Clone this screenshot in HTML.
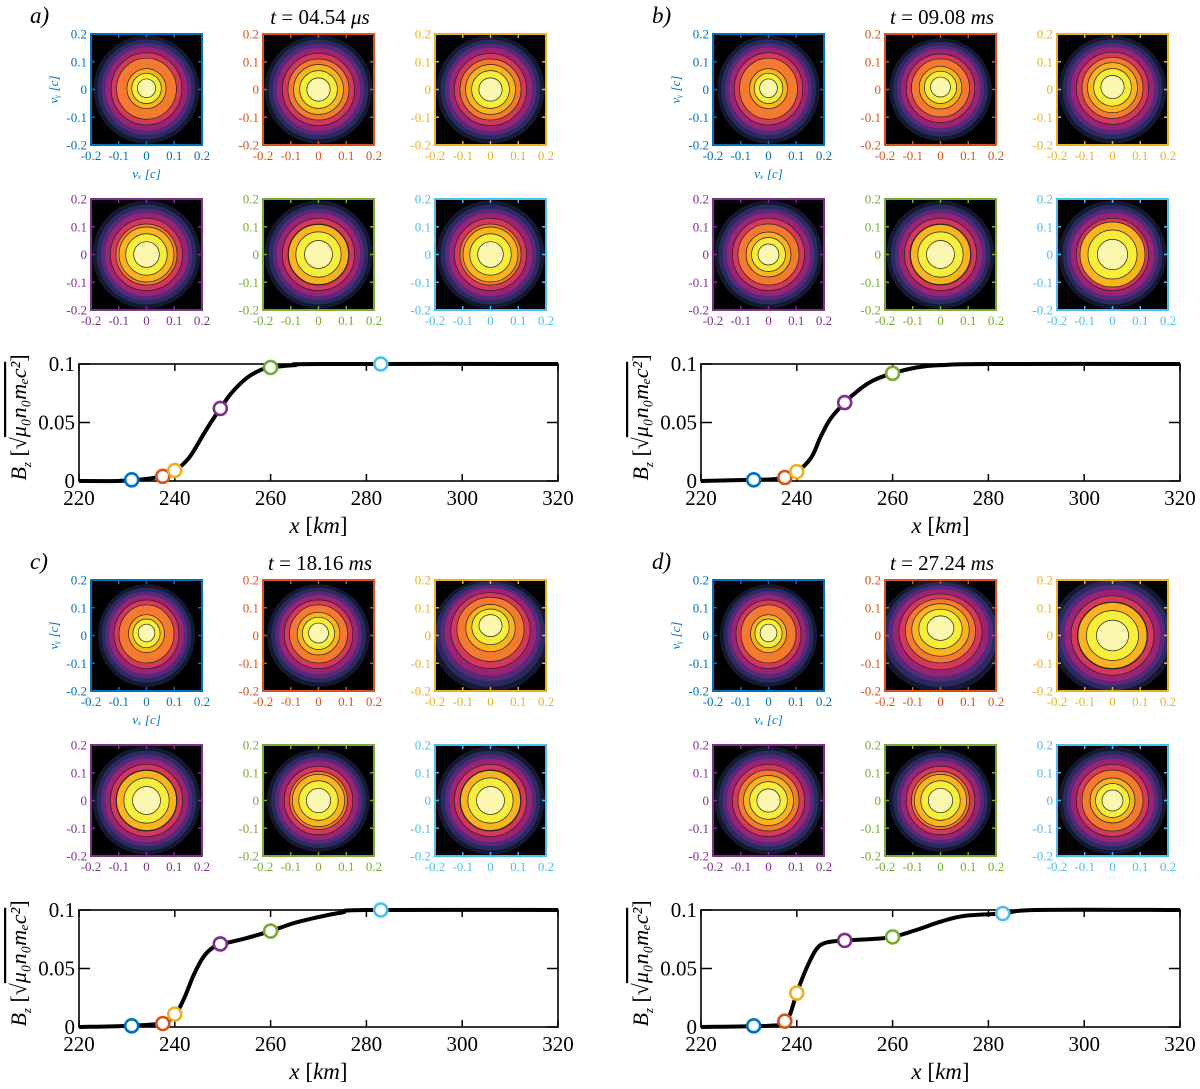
<!DOCTYPE html>
<html><head><meta charset="utf-8">
<style>
html,body{margin:0;padding:0;background:#fff;}
svg{display:block;font-family:"Liberation Serif",serif;}
</style></head>
<body>
<svg id="fig" width="1200" height="1089" viewBox="0 0 1200 1089" xmlns="http://www.w3.org/2000/svg"></svg>
<script>
// ---------- data ----------
const panelLabels = ["a)", "b)", "c)", "d)"];
const panelTimes = ["04.54 \u03BCs", "09.08 ms", "18.16 ms", "27.24 ms"];
const xTicks = [220, 240, 260, 280, 300, 320];
const yTicks = [0, 0.05, 0.1];
const yTickLabels = ["0", "0.05", "0.1"];
const vTicks = [-0.2, -0.1, 0, 0.1, 0.2];
const vTickLabels = ["-0.2", "-0.1", "0", "0.1", "0.2"];
const markerColors = ["#0072BD", "#D95319", "#EDB120", "#7E2F8E", "#77AC30", "#4DBEEE"];

const curveXa = [220,228,232,236,240,243,246,248,250,252,255,258,260,265,270,320];
const curveYa = [0,0,0.001,0.003,0.009,0.02,0.04,0.053,0.065,0.076,0.088,0.095,0.097,0.099,0.1,0.1];
const curveXb = [220,230,236,240,243,245,247,250,253,256,260,265,270,280,320];
const curveYb = [0,0.001,0.002,0.008,0.02,0.038,0.053,0.067,0.078,0.086,0.092,0.097,0.099,0.1,0.1];
const curveXc = [220,230,237,240,242,244,246,248,250,255,260,265,270,275,280,320];
const curveYc = [0,0.001,0.003,0.01,0.025,0.045,0.06,0.068,0.071,0.076,0.082,0.089,0.094,0.098,0.1,0.1];
const curveXd = [220,234,237,238.5,240,242,244,246,250,255,260,265,270,275,283,290,320];
const curveYd = [0,0.001,0.003,0.01,0.029,0.05,0.066,0.072,0.074,0.075,0.077,0.083,0.09,0.095,0.097,0.1,0.1];

const markXa = [231,237.5,240,249.5,260,283];
const markYa = [0.001,0.004,0.009,0.062,0.097,0.1];
const markXb = [231,237.5,240,250,260];
const markYb = [0.001,0.003,0.008,0.067,0.092];
const markXc = [231,237.5,240,249.5,260,283];
const markYc = [0.001,0.003,0.011,0.071,0.082,0.1];
const markXd = [231,237.5,240,250,260,283];
const markYd = [0.001,0.005,0.029,0.074,0.077,0.097];

// contour bands (radius in c units) and colours
const bandR = [0.195, 0.18, 0.165, 0.15, 0.13, 0.11, 0.09, 0.068, 0.042];
const bandC = ["#141830", "#2b2a5e", "#57297a", "#9c2374", "#d5385a", "#f47a2f", "#f9b41e", "#f7ee3c", "#fbf7ae"];
// per-subplot distribution shape: [scaleX, scaleY, centerX, centerY, coreScale]
const vdfShape = [
  [[0.98,1.0,0,0.005,0.8],[1,1,0,0,1],[1,1,0,0,1],[1,1,0,0,1.1],[1,1,0,0,1.2],[1,1,0,0,1.1]],
  [[0.95,1.0,0,0.005,0.8],[0.95,0.95,0,0.01,0.9],[1,1,0,0.01,1],[1,1,0,0,0.9],[1,1,0,0,1.2],[1,1,0,0,1.3]],
  [[0.9,0.95,0,0.01,0.8],[0.95,0.95,0,0.01,0.9],[1.1,1.05,0,0.04,0.9],[1,1,0,0,1.2],[0.95,0.95,0,0,1.1],[1,1,0,0,1.2]],
  [[0.9,0.95,0,0.01,0.8],[1.15,1.05,0,0.03,1.0],[1.15,1.1,0,0,1.2],[1,1,0,0,1.0],[0.95,0.95,0,0,1.1],[1,1,0,0,0.9]]
];

// ---------- layout ----------
const NS = "http://www.w3.org/2000/svg";
const fig = document.getElementById("fig");
function el(tag, attrs, parent) {
  const e = document.createElementNS(NS, tag);
  for (const k in attrs) e.setAttribute(k, attrs[k]);
  (parent || fig).appendChild(e);
  return e;
}
const panelOffX = [0, 622, 0, 622];
const panelOffY = [0, 0, 546, 546];
const curvesX = [curveXa, curveXb, curveXc, curveXd];
const curvesY = [curveYa, curveYb, curveYc, curveYd];
const marksX = [markXa, markXb, markXc, markXd];
const marksY = [markYa, markYb, markYc, markYd];
const vdfColX = [91, 263, 435];
const vdfRowY = [34, 199];
const vdfSize = 111;

function smoothPath(pts) {
  let d = "M" + pts[0][0] + "," + pts[0][1];
  for (let i = 0; i < pts.length - 1; i++) {
    const p0 = pts[Math.max(0, i - 1)], p1 = pts[i], p2 = pts[i + 1], p3 = pts[Math.min(pts.length - 1, i + 2)];
    const c1x = p1[0] + (p2[0] - p0[0]) / 6, c1y = p1[1] + (p2[1] - p0[1]) / 6;
    const c2x = p2[0] - (p3[0] - p1[0]) / 6, c2y = p2[1] - (p3[1] - p1[1]) / 6;
    d += " C" + c1x + "," + c1y + " " + c2x + "," + c2y + " " + p2[0] + "," + p2[1];
  }
  return d;
}

let clipId = 0;
function drawVdf(g, x0, y0, color, shape, showLabels, pi, k) {
  const S = vdfSize;
  const sc = v => S / 2 + v / 0.4 * S;
  const sub = el("g", {transform: "translate(" + x0 + "," + y0 + ")"}, g);
  
  
  const cid = "clip" + (clipId++);
  const cp = el("clipPath", {id: cid}, sub);
  el("rect", {x: 0, y: 0, width: S, height: S}, cp);
  const inner = el("g", {"clip-path": "url(#" + cid + ")"}, sub);
  el("rect", {x: 0, y: 0, width: S, height: S, fill: "#000"}, inner);
  const [sx, sy, cx, cy, core] = shape;
  for (let i = 0; i < bandR.length; i++) {
    let r = bandR[i];
    if (i >= 6) r *= core;
    const rx = r / 0.4 * S * sx, ry = r / 0.4 * S * sy;
    const ccy = sc(-cy * (i / bandR.length));
    const e = el("ellipse", {cx: sc(cx), cy: ccy, rx: rx, ry: ry, fill: bandC[i], stroke: i > 3 ? "#222" : "none", "stroke-width": 0.7}, inner);
    
    
  }
  el("rect", {x: 0, y: 0, width: S, height: S, fill: "none", stroke: color, "stroke-width": 2}, sub);
  vTicks.forEach((v, i) => {
    const p = sc(v);
    el("line", {x1: p, y1: S, x2: p, y2: S - 4, stroke: color, "stroke-width": 1.5}, sub);
    el("line", {x1: p, y1: 0, x2: p, y2: 4, stroke: color, "stroke-width": 1.5}, sub);
    el("line", {x1: 0, y1: p, x2: 4, y2: p, stroke: color, "stroke-width": 1.5}, sub);
    el("line", {x1: S, y1: p, x2: S - 4, y2: p, stroke: color, "stroke-width": 1.5}, sub);
    const tx = el("text", {x: p, y: S + 15, "text-anchor": "middle", "font-size": 13, fill: color}, sub);
    tx.textContent = vTickLabels[i];
    
    
    const ty = el("text", {x: -4, y: S - p + 4.5, "text-anchor": "end", "font-size": 13, fill: color}, sub);
    ty.textContent = vTickLabels[i];
    
    
  });
  if (showLabels) {
    const lx = el("text", {x: S / 2, y: S + 33, "text-anchor": "middle", "font-size": 13, "font-style": "italic", fill: color}, sub);
    lx.textContent = "v\u2093 [c]";
    
    
    const ly = el("text", {x: 0, y: 0, "text-anchor": "middle", "font-size": 13, "font-style": "italic", fill: color, transform: "translate(-33," + (S / 2) + ") rotate(-90)"}, sub);
    ly.textContent = "v\u1D67 [c]";
    
    
  }
}

for (let pi = 0; pi < 4; pi++) {
  const ox = panelOffX[pi], oy = panelOffY[pi];
  const g = el("g", {});
  
  
  const pl = el("text", {x: ox + 30, y: oy + 23, "font-size": 23, "font-style": "italic"}, g);
  pl.textContent = panelLabels[pi];
  
  
  const tt = el("text", {x: ox + 320, y: oy + 24, "text-anchor": "middle", "font-size": 21}, g);
  tt.innerHTML = '<tspan font-style="italic">t</tspan> = ' + panelTimes[pi].replace(/(\S+) (\S+)/, '$1 <tspan font-style="italic">$2</tspan>');
  
  

  for (let k = 0; k < 6; k++) {
    const r = Math.floor(k / 3), c = k % 3;
    drawVdf(g, ox + vdfColX[c], oy + vdfRowY[r], markerColors[k], vdfShape[pi][k], k === 0, pi, k);
  }

  // line chart
  const L = ox + 79, R = ox + 558, T = oy + 364, B = oy + 481;
  const xs = v => L + (v - 220) / 100 * (R - L);
  const ys = v => B - v / 0.1 * (B - T);
  const ch = el("g", {}, g);
  
  
  el("rect", {x: L, y: T, width: R - L, height: B - T, fill: "none", stroke: "#000", "stroke-width": 1.6}, ch);
  xTicks.forEach(v => {
    const p = xs(v);
    el("line", {x1: p, y1: B, x2: p, y2: B - 7, stroke: "#000", "stroke-width": 1.5}, ch);
    el("line", {x1: p, y1: T, x2: p, y2: T + 7, stroke: "#000", "stroke-width": 1.5}, ch);
    const t = el("text", {x: p, y: B + 24, "text-anchor": "middle", "font-size": 21}, ch);
    t.textContent = String(v);
    
    
  });
  yTicks.forEach((v, i) => {
    const p = ys(v);
    el("line", {x1: L, y1: p, x2: L + 11, y2: p, stroke: "#000", "stroke-width": 1.5}, ch);
    el("line", {x1: R, y1: p, x2: R - 11, y2: p, stroke: "#000", "stroke-width": 1.5}, ch);
    const t = el("text", {x: L - 4, y: p + 7, "text-anchor": "end", "font-size": 21}, ch);
    t.textContent = yTickLabels[i];
    
    
  });
  const pts = curvesX[pi].map((v, i) => [xs(v), ys(curvesY[pi][i])]);
  const line = el("path", {d: smoothPath(pts), fill: "none", stroke: "#000", "stroke-width": 4, "stroke-linejoin": "round"}, ch);
  
  
  marksX[pi].forEach((v, i) => {
    const m = el("circle", {cx: xs(v), cy: ys(marksY[pi][i]), r: 6.5, fill: "#fff", stroke: markerColors[i], "stroke-width": 2.6}, ch);
    
    
  });
  const xl = el("text", {x: (L + R) / 2, y: B + 52, "text-anchor": "middle", "font-size": 23}, ch);
  xl.innerHTML = '<tspan font-style="italic">x</tspan> [<tspan font-style="italic">km</tspan>]';
  
  
  const yl = el("text", {x: 0, y: 0, "text-anchor": "middle", "font-size": 22, transform: "translate(" + (ox + 26) + "," + ((T + B) / 2 - 5) + ") rotate(-90)"}, ch);
  yl.innerHTML = '<tspan font-style="italic">B</tspan><tspan font-size="13" dy="5" font-style="italic">z</tspan><tspan dy="-5"> [\u221A</tspan><tspan font-style="italic" text-decoration="overline">\u03BC\u2080n\u2080m\u2091c\u00B2</tspan>]';
  
  
}
</script>
</body></html>
